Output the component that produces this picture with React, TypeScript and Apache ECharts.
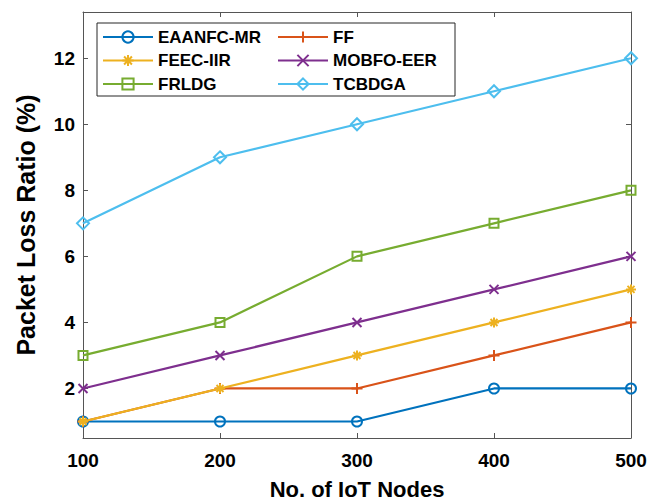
import React, { useEffect, useRef } from "react";
import * as echarts from "echarts";

const nodes = [100, 200, 300, 400, 500];
const seriesNames = ["EAANFC-MR", "FF", "FEEC-IIR", "MOBFO-EER", "FRLDG", "TCBDGA"];
const eaanfcMr = [1, 1, 1, 2, 2];
const ff = [1, 2, 2, 3, 4];
const feecIir = [1, 2, 3, 4, 5];
const mobfoEer = [2, 3, 4, 5, 6];
const frldg = [3, 4, 6, 7, 8];
const tcbdga = [7, 9, 10, 11, 12];
const yTicks = [2, 4, 6, 8, 10, 12];
const xTicks = [100, 200, 300, 400, 500];

const colors = ["#0072BD", "#D95319", "#EDB120", "#7E2F8E", "#77AC30", "#4DBEEE"];
const FONT = "'Liberation Sans', Arial, Helvetica, sans-serif";
const AX = "#555555";

const plusPath = "path://M5,0L5,10M0,5L10,5";
const xPath = "path://M0,0L10,10M0,10L10,0";
const starPath = "path://M5,0L5,10M0,5L10,5M1.5,1.5L8.5,8.5M1.5,8.5L8.5,1.5";

const symbols = ["circle", plusPath, starPath, xPath, "rect", "diamond"];
const symbolSizes = [10, 11, 10, 9, 9, 12];

export default function App() {
  const ref = useRef<HTMLDivElement>(null);
  useEffect(() => {
    if (!ref.current) return;
    const chart = echarts.init(ref.current, undefined, { renderer: "svg" });
    const values = [eaanfcMr, ff, feecIir, mobfoEer, frldg, tcbdga];
    const series = seriesNames.map((name, i) => ({
      name,
      type: "line",
      data: nodes.map((x, j) => [x, values[i][j]]),
      symbol: symbols[i],
      symbolSize: symbolSizes[i],
      showSymbol: true,
      lineStyle: { color: colors[i], width: 2.2 },
      itemStyle: { color: "rgba(0,0,0,0)", borderColor: colors[i], borderWidth: 2 },
      emphasis: { disabled: true },
      z: 2 + i * 0.01,
    }));
    const legendText = { fontFamily: FONT, fontWeight: "bold", fontSize: 17, color: "#000", lineHeight: 20 };
    chart.setOption({
      animation: false,
      backgroundColor: "#fff",
      grid: { left: 83, right: 17, top: 12, bottom: 64, containLabel: false, outerBoundsMode: "none" },
      xAxis: [
        {
          type: "value",
          min: 100,
          max: 500,
          interval: 100,
          name: "No. of IoT Nodes",
          nameLocation: "middle",
          nameGap: 40,
          nameTextStyle: { fontFamily: FONT, fontWeight: "bold", fontSize: 22, color: "#000" },
          axisLine: { show: true, lineStyle: { color: AX, width: 1 } },
          axisTick: { show: true, inside: true, length: 5, lineStyle: { color: AX } },
          axisLabel: { fontFamily: FONT, fontWeight: "bold", fontSize: 19, color: "#000", margin: 13, customValues: xTicks },
          splitLine: { show: false },
        },
        {
          type: "value",
          position: "top",
          min: 100,
          max: 500,
          interval: 100,
          axisLine: { show: true, lineStyle: { color: AX, width: 1 } },
          axisTick: { show: true, inside: true, length: 5, lineStyle: { color: AX } },
          axisLabel: { show: false },
          splitLine: { show: false },
        },
      ],
      yAxis: [
        {
          type: "value",
          min: 0.5,
          max: 13.4,
          name: "Packet Loss Ratio (%)",
          nameLocation: "middle",
          nameGap: 45,
          nameTextStyle: { fontFamily: FONT, fontWeight: "bold", fontSize: 25, color: "#000" },
          axisLine: { show: true, lineStyle: { color: AX, width: 1 } },
          axisTick: { show: true, inside: true, length: 5, lineStyle: { color: AX }, customValues: yTicks },
          axisLabel: { fontFamily: FONT, fontWeight: "bold", fontSize: 19, color: "#000", margin: 8, customValues: yTicks },
          splitLine: { show: false },
        },
        {
          type: "value",
          position: "right",
          min: 0.5,
          max: 13.4,
          axisLine: { show: true, lineStyle: { color: AX, width: 1 } },
          axisTick: { show: true, inside: true, length: 5, lineStyle: { color: AX }, customValues: yTicks },
          axisLabel: { show: false },
          splitLine: { show: false },
        },
      ],
      graphic: [
        {
          type: "rect",
          z: 3,
          shape: { x: 97, y: 23, width: 358, height: 73 },
          style: { fill: "#fff", stroke: "#262626", lineWidth: 1 },
        },
      ],
      legend: [
        {
          orient: "vertical",
          left: 102,
          top: 27,
          padding: 0,
          itemWidth: 50,
          itemHeight: 14,
          itemGap: 3.5,
          data: [seriesNames[0], seriesNames[2], seriesNames[4]],
          textStyle: legendText,
          z: 5,
        },
        {
          orient: "vertical",
          left: 277,
          top: 27,
          padding: 0,
          itemWidth: 50,
          itemHeight: 14,
          itemGap: 3.5,
          data: [seriesNames[1], seriesNames[3], seriesNames[5]],
          textStyle: legendText,
          z: 5,
        },
      ],
      series,
    });
    return () => chart.dispose();
  }, []);
  return <div ref={ref} style={{ width: 648, height: 502, position: "absolute", left: 0, top: 0 }} />;
}
